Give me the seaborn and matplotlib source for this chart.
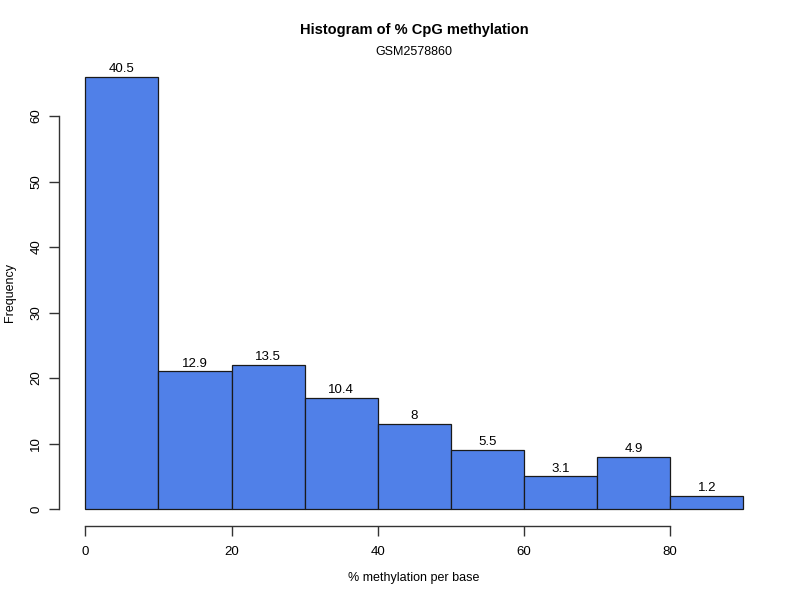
import matplotlib
matplotlib.use("Agg")
import matplotlib.pyplot as plt
import seaborn as sns
import numpy as np

bin_edges = [0, 10, 20, 30, 40, 50, 60, 70, 80, 90]
frequencies = [66, 21, 22, 17, 13, 9, 5, 8, 2]
percent_labels = ["40.5", "12.9", "13.5", "10.4", "8", "5.5", "3.1", "4.9", "1.2"]
x_ticks = [0, 20, 40, 60, 80]
y_ticks = [0, 10, 20, 30, 40, 50, 60]

sns.set_style("white")
plt.rcParams['font.family'] = ['Liberation Sans', 'DejaVu Sans']
plt.rcParams['text.color'] = 'black'
plt.rcParams['xtick.color'] = 'black'
plt.rcParams['ytick.color'] = 'black'

fig = plt.figure(figsize=(8, 6), dpi=100)
ax = fig.add_axes([0.0738, 0.1228, 0.962 - 0.0738, 0.901 - 0.1228])

centers = [(bin_edges[i] + bin_edges[i + 1]) / 2 for i in range(len(frequencies))]
sns.histplot(x=centers, weights=frequencies, bins=bin_edges, ax=ax,
             color="#5080E8", alpha=1.0, edgecolor="#1a1a1a", linewidth=0.9)

for c, f, lab in zip(centers, frequencies, percent_labels):
    ax.text(c, f + 0.25, lab, ha="center", va="bottom", fontsize=9.5, color="black")

ax.set_xlim(-3.6, 93.6)
ax.set_ylim(-2.64, 68.64)
for s in ["top", "right"]:
    ax.spines[s].set_visible(False)
ax.spines["left"].set_position(("data", -3.6))
ax.spines["bottom"].set_position(("data", -2.64))
ax.spines["left"].set_bounds(0, 60)
ax.spines["bottom"].set_bounds(0, 80)
for s in ["left", "bottom"]:
    ax.spines[s].set_color("#333333")
    ax.spines[s].set_linewidth(1.0)
ax.set_xticks(x_ticks)
ax.set_yticks(y_ticks)
ax.tick_params(axis="both", direction="out", length=7, width=1.0, color="#333333",
               labelsize=9.5, left=True, bottom=True)
ax.tick_params(axis="x", pad=7)
ax.tick_params(axis="y", pad=5)
for lab in ax.get_yticklabels():
    lab.set_rotation(90)
    lab.set_va("center")
ax.set_xlabel("")
ax.set_ylabel("")

cx = 414 / 800
fig.text(cx, 1 - 30 / 600, "Histogram of % CpG methylation", ha="center", va="center",
         fontsize=10.5, fontweight="bold")
fig.text(cx, 1 - 52 / 600, "GSM2578860", ha="center", va="center", fontsize=9)
fig.text(cx, 1 - 578 / 600, "% methylation per base", ha="center", va="center", fontsize=9)
fig.text(10 / 800, 1 - 292 / 600, "Frequency", ha="center", va="center", fontsize=9, rotation=90)

fig.savefig("out.png", dpi=100)
